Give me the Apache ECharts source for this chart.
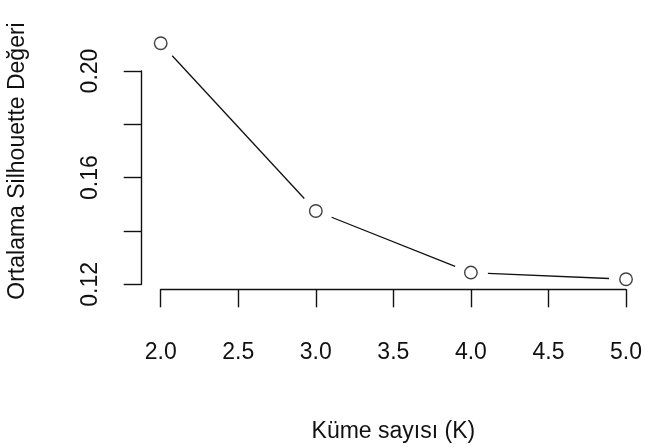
<!DOCTYPE html>
<html>
<head>
<meta charset="utf-8">
<script src="https://cdn.jsdelivr.net/npm/echarts@6/dist/echarts.min.js"></script>
<style>
html,body{margin:0;padding:0;background:#fff;}
#chart{width:645px;height:447px;}
</style>
</head>
<body>
<div id="chart"></div>
<script>
var kValues = [2, 3, 4, 5];
var silhouette = [0.2104, 0.1475, 0.1244, 0.1219];
var xTicks = ['2.0', '2.5', '3.0', '3.5', '4.0', '4.5', '5.0'];
var yTickLabels = ['0.12', '', '0.16', '', '0.20'];
var xTitle = 'Küme sayısı (K)';
var yTitle = 'Ortalama Silhouette Değeri';

var points = kValues.map(function (k, i) { return [k, silhouette[i]]; });
var segments = [];
for (var i = 0; i < kValues.length - 1; i++) {
  segments.push([kValues[i], silhouette[i], kValues[i + 1], silhouette[i + 1]]);
}

var font = '"Liberation Sans", Arial, sans-serif';
var ink = '#111';
var chart = echarts.init(document.getElementById('chart'), null, {renderer: 'canvas'});
chart.setOption({
  animation: false,
  backgroundColor: '#fff',
  grid: {left: 160.7, right: 13, top: 71, bottom: 162.7, containLabel: false},
  xAxis: {
    type: 'value', min: 2, max: 5, interval: 0.5, offset: 5,
    splitLine: {show: false},
    axisLine: {show: true, lineStyle: {color: ink, width: 1.4}},
    axisTick: {show: true, length: 18, lineStyle: {color: ink, width: 1.4}},
    axisLabel: {
      margin: 52, fontSize: 23, fontFamily: font, color: ink,
      formatter: function (v, idx) { return xTicks[idx]; }
    },
    name: xTitle, nameLocation: 'middle', nameGap: 131,
    nameTextStyle: {fontSize: 23, fontFamily: font, color: ink}
  },
  yAxis: {
    type: 'value', min: 0.12, max: 0.20, interval: 0.02, offset: 19,
    splitLine: {show: false},
    axisLine: {show: true, lineStyle: {color: ink, width: 1.4}},
    axisTick: {show: true, length: 18, lineStyle: {color: ink, width: 1.4}},
    axisLabel: {
      margin: 40, fontSize: 23, fontFamily: font, color: ink, rotate: 90,
      formatter: function (v, idx) { return yTickLabels[idx]; }
    }
  },
  graphic: [{
    type: 'text', x: 18, y: 161, rotation: Math.PI / 2,
    style: {text: yTitle, fontSize: 23, fontFamily: font, fill: ink,
            align: 'center', verticalAlign: 'middle'}
  }],
  series: [
    {
      type: 'custom', clip: false, silent: true,
      data: segments,
      encode: {x: [0, 2], y: [1, 3]},
      renderItem: function (params, api) {
        var p0 = api.coord([api.value(0), api.value(1)]);
        var p1 = api.coord([api.value(2), api.value(3)]);
        var dx = p1[0] - p0[0], dy = p1[1] - p0[1];
        var len = Math.sqrt(dx * dx + dy * dy);
        var gap = 17;
        if (len <= 2 * gap) return null;
        var ux = dx / len, uy = dy / len;
        return {
          type: 'line',
          shape: {x1: p0[0] + ux * gap, y1: p0[1] + uy * gap,
                  x2: p1[0] - ux * gap, y2: p1[1] - uy * gap},
          style: {stroke: ink, lineWidth: 1.3}
        };
      }
    },
    {
      type: 'scatter', clip: false, silent: true,
      data: points,
      symbol: 'circle', symbolSize: 12.5,
      itemStyle: {color: '#fff', borderColor: ink, borderWidth: 1.4}
    }
  ]
});
</script>
</body>
</html>
